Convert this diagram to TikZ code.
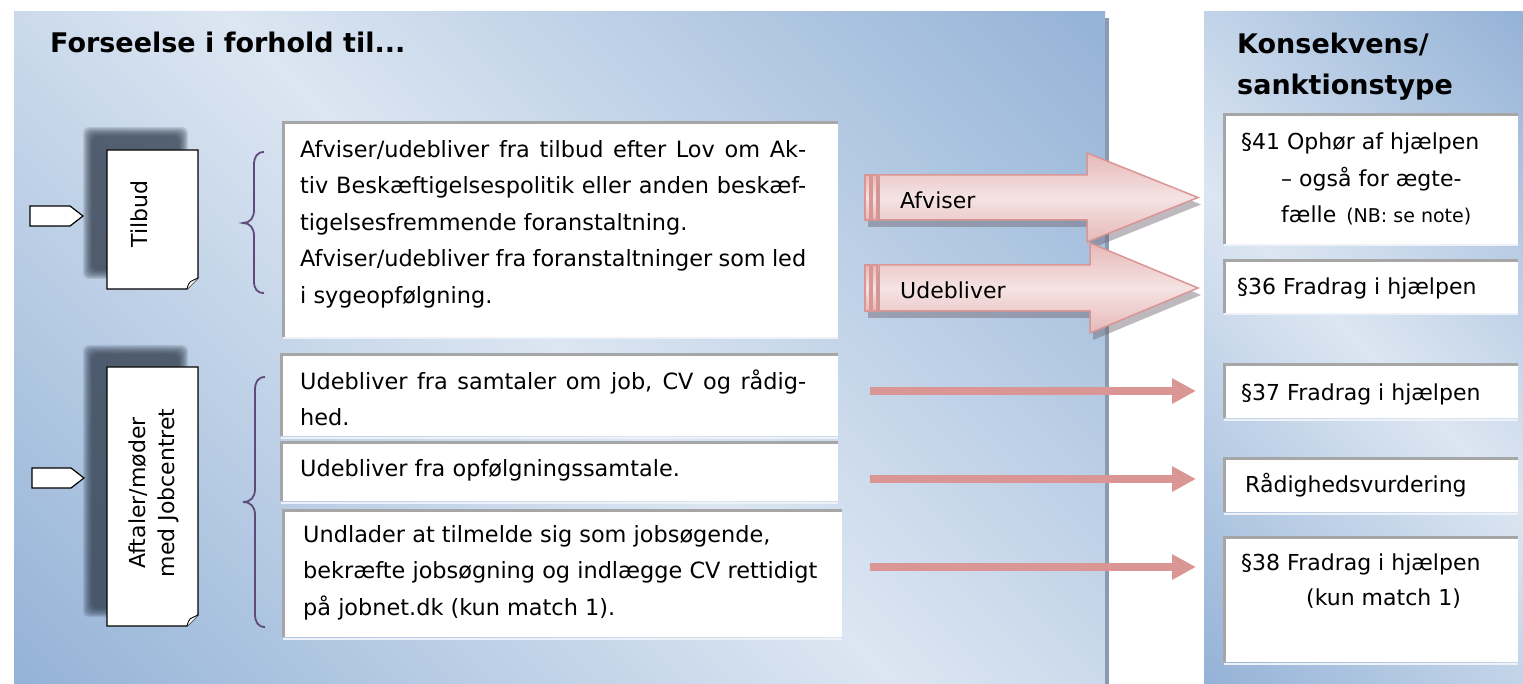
\documentclass[tikz,border=0pt]{standalone}
\usepackage{fontspec}
\setmainfont{DejaVu Sans}
\usetikzlibrary{arrows.meta}

\definecolor{panelDark}{HTML}{95B3D7}
\definecolor{panelLight}{HTML}{DCE6F2}
\definecolor{panelEdge}{HTML}{8A9AB0}
\definecolor{boxEdge}{HTML}{A6A6A6}
\definecolor{boxGlow}{HTML}{EEF2F8}
\definecolor{braceCol}{HTML}{604A7B}
\definecolor{pinkLine}{HTML}{D99694}
\definecolor{pinkLight}{HTML}{F5E3E3}
\definecolor{pinkMid}{HTML}{E6B9B8}
\definecolor{docShade}{HTML}{2E3A4A}
\definecolor{arrowShade}{HTML}{6E6470}

% reflected diagonal gradient used for both background panels
\pgfdeclarehorizontalshading{panelshade}{100bp}{%
  color(0bp)=(panelDark); color(15bp)=(panelDark); color(50bp)=(panelLight);
  color(85bp)=(panelDark); color(100bp)=(panelDark)}

\newcommand{\lnstrut}{\rule{0pt}{20pt}}
% a justified (stretched) line of the given width
\newcommand{\jline}[1]{\makebox[506pt][s]{#1}}

\tikzset{
  panel/.style={shading=panelshade, shading angle=45},
  tbox/.style={fill=white, inner sep=0pt, outer sep=0pt},
  boxrim/.style={draw=boxEdge, line width=3pt},
  boxglow/.style={draw=boxGlow, line width=2pt},
  txt/.style={anchor=base west, inner sep=0pt, font=\fontsize{22}{36.6}\selectfont},
  ltxt/.style={anchor=base west, inner sep=0pt, font=\fontsize{22.4}{36.6}\selectfont},
  mtxt/.style={anchor=north west, inner sep=0pt, align=left, font=\fontsize{22.4}{36.6}\selectfont},
  head/.style={anchor=base west, inner sep=0pt, font=\fontsize{27}{39}\selectfont\bfseries},
  doc/.style={draw=black, line width=1.2pt, fill=white, line join=miter},
  pent/.style={draw=black, line width=1.2pt, fill=white},
  brace/.style={draw=braceCol, line width=1.8pt},
  thinarrow/.style={draw=pinkLine, line width=8pt, -{Triangle[length=24pt,width=24pt]}},
  bigarrow/.style={draw=pinkLine, line width=1.5pt, top color=pinkMid, bottom color=pinkMid, middle color=pinkLight},
  bigshadow/.style={fill=arrowShade, opacity=0.45},
  rot/.style={rotate=90, inner sep=0pt, align=center, font=\fontsize{22}{29}\selectfont},
}

\begin{document}
\begin{tikzpicture}[x=1pt, y=-1pt]
\useasboundingbox (0,0) rectangle (1523,684);
\fill[white] (0,0) rectangle (1523,684);

% background panels
\shade[panel] (14,12) rectangle (1105,684);
\fill[panelEdge] (1105,18) rectangle (1109,684);
\shade[panel] (1204,12) rectangle (1523,684);

% headings
\node[head] (hleft) at (50,53) {Forseelse i forhold til...};
\node[head] (hright1) at (1237,54) {Konsekvens/};
\node[head] (hright2) at (1237,95) {sanktionstype};

% small entry markers
\draw[pent] (30,206) -- (70,206) -- (83,216) -- (70,226) -- (30,226) -- cycle;
\draw[pent] (32,468) -- (71,468) -- (84,478) -- (71,488) -- (32,488) -- cycle;

% soft shadows behind the category sheets
\foreach \k in {0,...,9}{
  \fill[docShade, opacity=0.13, rounded corners=6pt] (83+\k,127+\k) rectangle (188-\k,279-\k);
  \fill[docShade, opacity=0.13, rounded corners=6pt] (83+\k,345+\k) rectangle (188-\k,617-\k);
}

% category sheets with folded corner
\draw[doc] (107,150) -- (198,150) -- (198,278) -- (187,289) -- (107,289) -- cycle;
\draw[doc, line width=0.9pt] (187,289) .. controls (188,285) and (189,283) .. (190.5,281.5) -- (198,278);
\node[rot] (tilbud) at (139,214) {Tilbud};

\draw[doc] (107,367) -- (198,367) -- (198,615) -- (187,626) -- (107,626) -- cycle;
\draw[doc, line width=0.9pt] (187,626) .. controls (188,622) and (189,620) .. (190.5,618.5) -- (198,615);
\node[rot] (aftaler) at (154,493) {Aftaler/møder\\med Jobcentret};

% braces
\draw[brace] (264,152) .. controls (257,152) and (254,157) .. (254,165) -- (254,210)
  .. controls (254,218) and (250,223) .. (243,223)
  .. controls (250,223) and (254,228) .. (254,236) -- (254,281)
  .. controls (254,289) and (257,293) .. (264,293);
\draw[brace] (265,377) .. controls (258,377) and (255,382) .. (255,390) -- (255,489)
  .. controls (255,497) and (251,502) .. (243,502)
  .. controls (251,502) and (255,507) .. (255,515) -- (255,614)
  .. controls (255,622) and (258,627) .. (265,627);

% offence boxes
\node[tbox, minimum width=555pt, minimum height=214pt] (b1) at (560.5,230) {};
\node[tbox, minimum width=557pt, minimum height=81pt] (b2) at (559.5,395.5) {};
\node[tbox, minimum width=557pt, minimum height=59pt] (b3) at (559.5,471.5) {};
\node[tbox, minimum width=559pt, minimum height=127pt] (b4) at (562.5,573.5) {};
\foreach \b in {b1,b2,b3,b4}{
  \draw[boxglow] ([yshift=-1.5pt]\b.south west) -- ([yshift=-1.5pt]\b.south east);
  \draw[boxrim] (\b.south west) -- (\b.north west) -- (\b.north east);
}
\node[mtxt] (t1) at (300,137) {\lnstrut\jline{Afviser/udebliver fra tilbud efter Lov om Ak-}\\\jline{tiv Beskæftigelsespolitik eller anden beskæf-}\\tigelsesfremmende foranstaltning.\\\jline{Afviser/udebliver fra foranstaltninger som led}\\i sygeopfølgning.};
\node[mtxt] (t2) at (300,369) {\lnstrut\jline{Udebliver fra samtaler om job, CV og rådig-}\\hed.};
\node[ltxt] (t3) at (300,476) {Udebliver fra opfølgningssamtale.};
\node[mtxt] (t4) at (303,522) {\lnstrut Undlader at tilmelde sig som jobsøgende,\\bekræfte jobsøgning og indlægge CV rettidigt\\på jobnet.dk (kun match 1).};

% consequence boxes
\node[tbox, minimum width=294pt, minimum height=129pt] (r1) at (1371,179.5) {};
\node[tbox, minimum width=294pt, minimum height=52pt] (r2) at (1371,287) {};
\node[tbox, minimum width=294pt, minimum height=53pt] (r3) at (1371,391.5) {};
\node[tbox, minimum width=294pt, minimum height=54pt] (r4) at (1371,485) {};
\node[tbox, minimum width=294pt, minimum height=125pt] (r5) at (1371,599.5) {};
\foreach \b in {r1,r2,r3,r4,r5}{
  \draw[boxglow] ([yshift=-1.5pt]\b.south west) -- ([yshift=-1.5pt]\b.south east);
  \draw[boxrim] (\b.south west) -- (\b.north west) -- (\b.north east);
}
\node[txt] (r1a) at (1241,150) {§41 Ophør af hjælpen};
\node[txt] (r1b) at (1281,187) {– også for ægte-};
\node[txt] (r1c) at (1281,223) {fælle\hspace{10pt}{\fontsize{19}{20}\selectfont(NB: se note)}};
\node[txt] (r2a) at (1237,295) {§36 Fradrag i hjælpen};
\node[txt] (r3a) at (1241,400) {§37 Fradrag i hjælpen};
\node[txt] (r4a) at (1245,492) {Rådighedsvurdering};
\node[txt] (r5a) at (1241,570) {§38 Fradrag i hjælpen};
\node[txt] (r5b) at (1306,605) {(kun match 1)};

% wide striped arrows
\begin{scope}[shift={(3,7)}]
  \fill[bigshadow] (865,175) -- (1087,175) -- (1087,153) -- (1198,197.5) -- (1087,242) -- (1087,220) -- (865,220) -- cycle;
\end{scope}
\path[bigarrow] (865,175) rectangle (870,220);
\path[bigarrow] (872,175) rectangle (877,220);
\path[bigarrow] (879,175) -- (1087,175) -- (1087,153) -- (1198,197.5) -- (1087,242) -- (1087,220) -- (879,220) -- cycle;
\node[txt] (afv) at (900,209) {Afviser};

\begin{scope}[shift={(3,7)}]
  \fill[bigshadow] (865,265) -- (1090,265) -- (1090,243) -- (1198,288) -- (1090,333) -- (1090,311) -- (865,311) -- cycle;
\end{scope}
\path[bigarrow] (865,265) rectangle (870,311);
\path[bigarrow] (872,265) rectangle (877,311);
\path[bigarrow] (879,265) -- (1090,265) -- (1090,243) -- (1198,288) -- (1090,333) -- (1090,311) -- (879,311) -- cycle;
\node[txt] (udb) at (900,299) {Udebliver};

% thin arrows
\coordinate (s2) at (870,391);
\coordinate (s3) at (870,479);
\coordinate (s4) at (870,567);
\draw[thinarrow, shorten >=28pt] (s2) -- (s2 -| r3.west);
\draw[thinarrow, shorten >=28pt] (s3) -- (s3 -| r4.west);
\draw[thinarrow, shorten >=28pt] (s4) -- (s4 -| r5.west);
\end{tikzpicture}
\end{document}
